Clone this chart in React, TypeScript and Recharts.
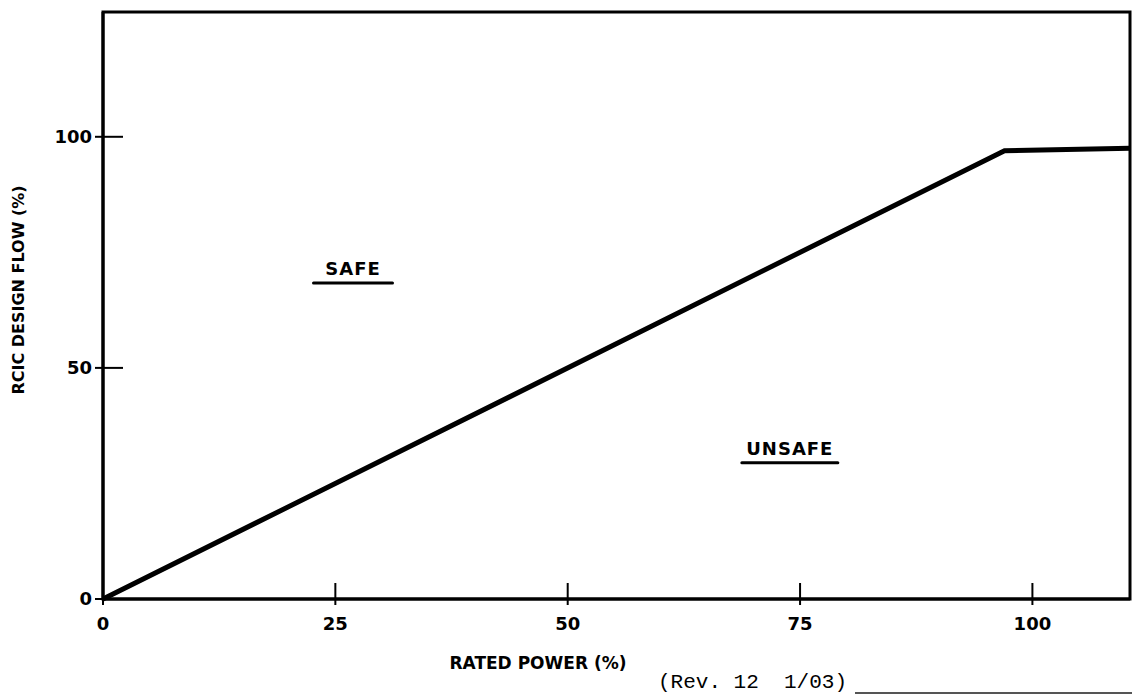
import React from 'react';
import { LineChart, Line, XAxis, YAxis, ReferenceArea, ReferenceLine, ReferenceDot } from 'recharts';

// curve points
const ratedPower = [0, 97, 110.5];
const designFlow = [0, 97, 97.5];
const xTicks = [0, 25, 50, 75, 100];
const yTicks = [0, 50, 100];
const regionLabels = ['SAFE', 'UNSAFE'];
const regionX = [26.9, 73.9];
const regionY = [70.1, 31.2];

const W = 1132;
const H = 696;
const X_MAX = 110.5;
const Y_MAX = 127;
const margin = { top: 12, right: 2, left: 43, bottom: 37 };
const plotW = W - 103 - margin.right;
const plotH = 599 - margin.top;
const tickFont = '"DejaVu Sans", sans-serif';
const underline: Record<string, number> = { SAFE: 79, UNSAFE: 96 };

const data = ratedPower.map((p, i) => ({ power: p, flow: designFlow[i] }));

const RegionLabel = (props: any) => {
    const { cx, cy, text } = props;
    const w = underline[text];
    return (
        <g>
            <text x={cx} y={cy} textAnchor="middle" fontFamily={tickFont} fontWeight="bold"
                fontSize={18} letterSpacing={1} fill="#000">{text}</text>
            <line x1={cx - w / 2} x2={cx + w / 2} y1={cy + 8} y2={cy + 8} stroke="#000" strokeWidth={3} strokeLinecap="round" />
        </g>
    );
};

export default function App() {
    // inward part of the tick marks, converted from px to data units
    const xIn = 16 * Y_MAX / plotH;
    const yIn = 20 * X_MAX / plotW;
    return (
        <div style={{ position: 'absolute', left: 0, top: 0, width: W, height: H, background: '#fff' }}>
            <LineChart width={W} height={H} data={data} margin={margin}>
                <XAxis dataKey="power" type="number" domain={[0, X_MAX]} ticks={xTicks} height={60}
                    axisLine={{ stroke: '#000', strokeWidth: 3 }} tickLine={{ stroke: '#000', strokeWidth: 2 }}
                    tickSize={6} tickMargin={12}
                    tick={{ fill: '#000', fontSize: 18, fontWeight: 'bold', fontFamily: tickFont }} />
                <YAxis dataKey="flow" type="number" domain={[0, Y_MAX]} ticks={yTicks} width={60}
                    axisLine={{ stroke: '#000', strokeWidth: 3 }} tickLine={{ stroke: '#000', strokeWidth: 2 }}
                    tickSize={8} tickMargin={3}
                    tick={{ fill: '#000', fontSize: 18, fontWeight: 'bold', fontFamily: tickFont }} />
                <ReferenceArea x1={0} x2={X_MAX} y1={0} y2={Y_MAX} fill="none" stroke="#000" strokeWidth={3} />
                {xTicks.map(t => (
                    <ReferenceLine key={'xt' + t} segment={[{ x: t, y: 0 }, { x: t, y: xIn }]} stroke="#000" strokeWidth={2} />
                ))}
                {yTicks.map(t => (
                    <ReferenceLine key={'yt' + t} segment={[{ x: 0, y: t }, { x: yIn, y: t }]} stroke="#000" strokeWidth={2} />
                ))}
                <Line dataKey="flow" type="linear" stroke="#000" strokeWidth={5} dot={false} isAnimationActive={false} />
                {regionLabels.map((lab, i) => (
                    <ReferenceDot key={lab} x={regionX[i]} y={regionY[i]} r={0}
                        shape={(p: any) => <RegionLabel {...p} text={lab} />} />
                ))}
            </LineChart>
            <div style={{ position: 'absolute', left: 18, top: 290, transform: 'translate(-50%, -50%) rotate(-90deg)',
                whiteSpace: 'nowrap', fontFamily: tickFont, fontWeight: 'bold', fontSize: 16 }}>
                RCIC DESIGN FLOW (%)
            </div>
            <div style={{ position: 'absolute', left: 538, top: 655, transform: 'translateX(-50%)',
                whiteSpace: 'nowrap', fontFamily: tickFont, fontWeight: 'bold', fontSize: 17, lineHeight: '17px' }}>
                RATED POWER (%)
            </div>
            <div style={{ position: 'absolute', left: 658, top: 672, whiteSpace: 'nowrap',
                fontFamily: '"Liberation Mono", monospace', fontSize: 21, lineHeight: '21px' }}>
                (Rev. 12&nbsp;&nbsp;1/03)
            </div>
            <div style={{ position: 'absolute', left: 855, top: 692, width: 277, height: 2, background: '#555' }} />
        </div>
    );
}
